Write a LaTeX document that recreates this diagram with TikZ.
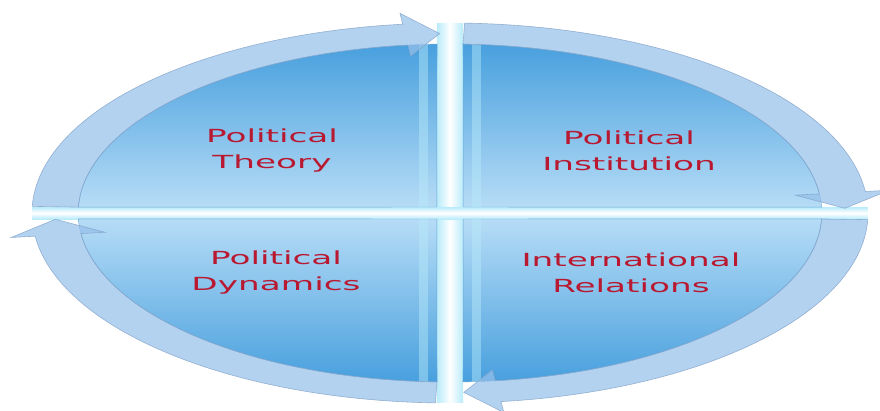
\documentclass[tikz,border=0pt]{standalone}
\usepackage{fontspec}
\newfontfamily\quadfont[FakeStretch=1.9]{DejaVu Sans}
\usetikzlibrary{calc}
\definecolor{quaddark}{RGB}{72,160,222}
\definecolor{quadlight}{RGB}{182,220,246}
\definecolor{quadedge}{RGB}{110,168,215}
\definecolor{bandfill}{RGB}{150,192,234}
\definecolor{bandedge}{RGB}{130,162,200}
\definecolor{gapglow}{RGB}{185,235,250}
\definecolor{textred}{RGB}{185,25,48}

\begin{document}
\begin{tikzpicture}[x=0.03cm,y=0.03cm]
\tikzset{quad/.style={draw=quadedge,line width=0.4pt},
  band/.style={fill=bandfill,fill opacity=0.72,draw=bandedge,draw opacity=0.8,line width=0.5pt},
  quadtext/.style={text=textred,align=center,font=\quadfont\fontsize{15.4}{22.2}\selectfont}}
\useasboundingbox (0,0) rectangle (880,410);

\begin{scope}[shift={(450,197)},xscale=2.2]
% glossy gaps
\begin{scope}
\clip (0,0) circle[radius=190];
\shade[left color=gapglow,right color=gapglow,middle color=white] (-6,-190) rectangle (6,190);
\shade[top color=gapglow,bottom color=gapglow,middle color=white] (-190,-6) rectangle (190,6);
\end{scope}

% quadrants
\shade[quad,top color=quaddark,bottom color=quadlight] (-6,6) -- (92:169) arc[start angle=92,end angle=178,radius=169] -- cycle;
\shade[quad,top color=quaddark,bottom color=quadlight] (6,6) -- (2:169) arc[start angle=2,end angle=88,radius=169] -- cycle;
\shade[quad,top color=quadlight,bottom color=quaddark] (-6,-6) -- (182:169) arc[start angle=182,end angle=268,radius=169] -- cycle;
\shade[quad,top color=quadlight,bottom color=quaddark] (6,-6) -- (272:169) arc[start angle=272,end angle=358,radius=169] -- cycle;

\begin{scope}
\clip (0,0) circle[radius=169];
\foreach \sx in {-1,1}
  \foreach \sy in {-1,1}
    \fill[gapglow,opacity=0.45] (\sx*10,\sy*6) rectangle (\sx*14,\sy*169);
\end{scope}

% circular arrows
\foreach \s/\b/\t in {178/96.5/91.5,88/6.5/1.5,-2/-83/-88,-92/-173/-178}
  \path[band] (\s:190) arc[start angle=\s,end angle=\b,radius=190] -- (\b:201) -- (\t:179.5)
    -- (\b:158) -- (\b:169) arc[start angle=\b,end angle=\s,radius=169] -- cycle;
\end{scope}

\node[quadtext] (theory)      at (272,259) {Political\\Theory};
\node[quadtext] (institution) at (629,259) {Political\\Institution};
\node[quadtext] (dynamics)    at (276,137) {Political\\Dynamics};
\node[quadtext] (relations)   at (631,137) {International\\Relations};
\end{tikzpicture}
\end{document}
